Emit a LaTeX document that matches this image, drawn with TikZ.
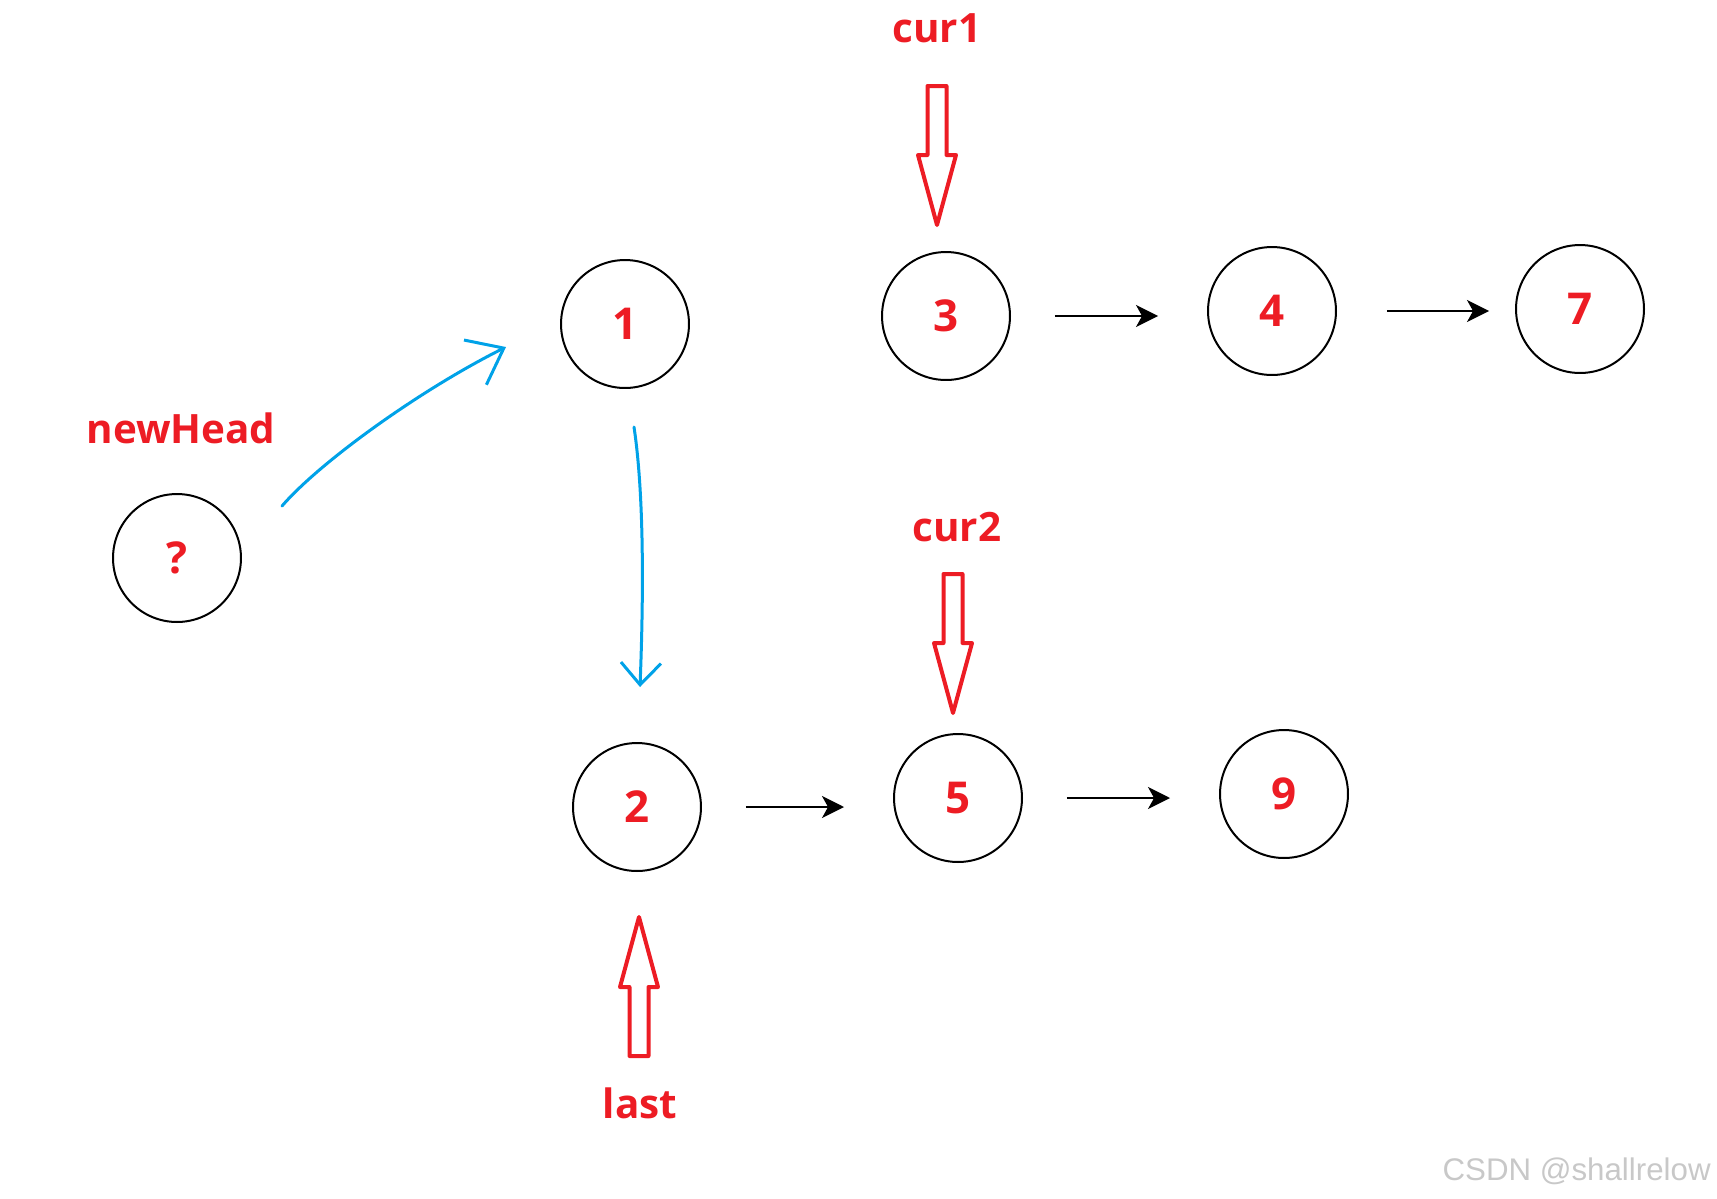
\documentclass[tikz,border=0pt]{standalone}
\usepackage{fontspec}
\setmainfont{Open Sans}
\newfontfamily\wmfont{Liberation Sans}
\usetikzlibrary{arrows.meta}
\definecolor{markred}{RGB}{237,28,36}
\definecolor{penblue}{RGB}{0,162,232}
\definecolor{wmgray}{RGB}{200,200,200}

\begin{document}
\begin{tikzpicture}[x=0.02cm, y=-0.02cm,
    nd/.style={circle, draw, line width=0.04cm, minimum size=2.56cm, inner sep=0pt,
               text=markred, font=\fontsize{25}{29}\selectfont\bfseries},
    lbl/.style={text=markred, font=\fontsize{23}{27}\selectfont\bfseries,
                inner sep=0pt, anchor=base},
    arr/.style={-{Stealth[length=0.44cm, width=0.44cm, inset=0.12cm]}, line width=0.045cm,
                shorten <=0.88cm, shorten >=2.28cm},
    hand/.style={penblue, line width=0.06cm, line cap=round},
    ptrline/.style={markred, line width=0.08cm, line join=round},
    pics/ptr/.style={code={\draw[ptrline] (0,0) -- (-19,-70) -- (-9.5,-70) -- (-9.5,-139)
        -- (9.5,-139) -- (9.5,-70) -- (19,-70) -- cycle;}}]
    \useasboundingbox (0,0) rectangle (1717,1198);
    \node[nd] (q) at (177,558) {?};
    \node[nd] (n1) at (625,324) {1};
    \node[nd] (n3) at (946,316) {3};
    \node[nd] (n4) at (1272,311) {4};
    \node[nd] (n7) at (1580,309) {7};
    \node[nd] (n2) at (637,807) {2};
    \node[nd] (n5) at (958,798) {5};
    \node[nd] (n9) at (1284,794) {9};
    \draw[arr] (n3) -- (n3 -| n4);
    \draw[arr, shorten <=1cm, shorten >=1.82cm] (n4) -- (n4 -| n7);
    \draw[arr] (n2) -- (n2 -| n5);
    \draw[arr] (n5) -- (n5 -| n9);
    \node[lbl] (c1) at (937,42) {cur1};
    \node[lbl] (c2) at (957,541) {cur2};
    \node[lbl] (nh) at (181,443) {newHead};
    \node[lbl] (ls) at (640,1118) {last};
    \pic at (937,225) {ptr};
    \pic at (953,713) {ptr};
    \pic[rotate=180] at (639,917) {ptr};
    \coordinate (qa) at (282,506);
    \coordinate (oa) at (506,347);
    \draw[hand, -{Straight Barb[length=0.64cm, width=1cm]}] (qa) .. controls (320,462) and (420,390) .. (oa);
    \coordinate (da) at (634,427);
    \coordinate (db) at (640,687);
    \draw[hand, -{Straight Barb[length=0.44cm, width=0.8cm]}] (da) .. controls (645,500) and (643,610) .. (db);
    \node[wmgray, font=\wmfont\fontsize{17.8}{20}\selectfont, anchor=base east, inner sep=0pt]
        (wm) at (1711,1180) {CSDN @shallrelow};
\end{tikzpicture}
\end{document}
